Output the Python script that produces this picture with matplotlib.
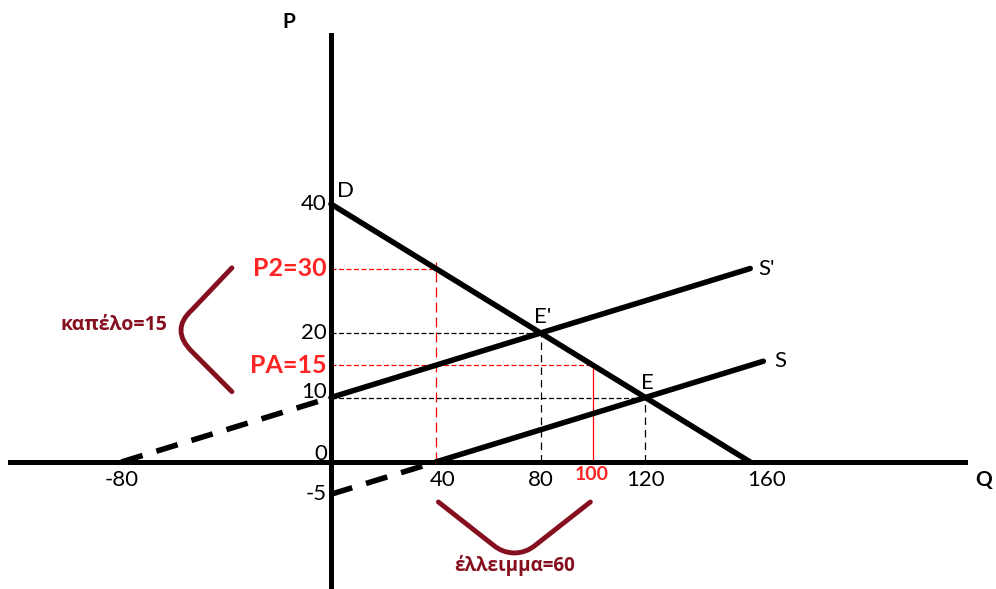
import numpy as np
import matplotlib.pyplot as plt
from matplotlib.path import Path
from matplotlib.patches import PathPatch

# market data (Q, P)
q_ticks = [-80, 40, 80, 120, 160]
p_ticks = [40, 20, 10, 0, -5]
demand_q = [0, 160]
demand_p = [40, 0]
supply_dash_q = [0, 40]
supply_dash_p = [-5, 0]
supply_q = [40, 165]
supply_p = [0, 15.625]
supply2_dash_q = [-80, 0]
supply2_dash_p = [0, 10]
supply2_q = [0, 160]
supply2_p = [10, 30]
eq_old = (120, 10)
eq_new = (80, 20)
p2, pa = 30, 15
q_p2, q_pa = 40, 100

red = '#ff2424'
dark = '#860f1f'
plt.rcParams['font.family'] = ['Lato', 'DejaVu Sans']
greek = ['Open Sans', 'DejaVu Sans']

fig = plt.figure(figsize=(9.96, 5.89), dpi=100)
ax = fig.add_axes([0, 0, 1, 1])
ax.set_xlim(-126.3, 253.8)
ax.set_ylim(-19.69, 71.63)
ax.axis('off')

# axes
ax.axhline(0, xmin=0.01, xmax=0.969, color='black', lw=3.6, zorder=3)
ax.axvline(0, ymin=0, ymax=0.94, color='black', lw=3.6, zorder=3)

# guide lines
ax.plot([0, eq_new[0]], [eq_new[1]] * 2, color='black', lw=0.9, ls=(0, (4, 2)), zorder=1)
ax.plot([eq_new[0]] * 2, [0, eq_new[1]], color='black', lw=0.9, ls=(0, (6, 4)), zorder=1)
ax.plot([0, eq_old[0]], [eq_old[1]] * 2, color='black', lw=0.9, ls=(0, (4, 2)), zorder=1)
ax.plot([eq_old[0]] * 2, [0, eq_old[1]], color='black', lw=0.9, ls=(0, (6, 4)), zorder=1)
ax.plot([0, q_p2], [p2, p2], color='red', lw=0.9, ls=(0, (4, 2)), zorder=1)
ax.plot([q_p2, q_p2], [0, p2 + 1], color='red', lw=0.9, ls=(0, (8, 4)), zorder=1)
ax.plot([0, q_pa], [pa, pa], color='red', lw=0.9, ls=(0, (4, 2)), zorder=1)
ax.plot([q_pa, q_pa], [0, pa], color='red', lw=0.9, zorder=1)

# curves
ax.plot(demand_q, demand_p, color='black', lw=4, solid_capstyle='round', zorder=4)
ax.plot(supply_q, supply_p, color='black', lw=4, solid_capstyle='round', zorder=4)
ax.plot(supply_dash_q, supply_dash_p, color='black', lw=4, ls=(0, (4, 2.6)), zorder=4)
ax.plot(supply2_q, supply2_p, color='black', lw=4, solid_capstyle='round', zorder=4)
ax.plot(supply2_dash_q, supply2_dash_p, color='black', lw=4, ls=(0, (4, 2.6)), zorder=4)

# tick labels
for p in p_ticks:
    dy = 0
    if p == 0:
        dy = 6
    elif p == 10:
        dy = 4
    ax.annotate(str(p), (0, p), xytext=(-3, dy), textcoords='offset points',
                ha='right', va='center', fontsize=16)
for q in q_ticks:
    dx = 0
    if q == 160:
        dx = 12
    elif q == 40:
        dx = 5
    ax.annotate(str(q), (q, 0), xytext=(dx, -6), textcoords='offset points',
                ha='center', va='top', fontsize=16)
ax.annotate(str(q_pa), (q_pa, 0), xytext=(-1, -3), textcoords='offset points',
            ha='center', va='top', fontsize=14, color=red, fontweight='bold')

ax.annotate(f'P2={p2}', (0, p2), xytext=(-3, 0), textcoords='offset points',
            ha='right', va='center', fontsize=18, color=red, fontweight='bold')
ax.annotate(f'PA={pa}', (0, pa), xytext=(-3, 0), textcoords='offset points',
            ha='right', va='center', fontsize=18, color=red, fontweight='bold')

# curve labels
ax.annotate('D', (demand_q[0], demand_p[0]), xytext=(4, 2), textcoords='offset points',
            ha='left', va='bottom', fontsize=16)
ax.annotate("E'", eq_new, xytext=(-5, 4), textcoords='offset points',
            ha='left', va='bottom', fontsize=16)
ax.annotate('E', eq_old, xytext=(-3, 3), textcoords='offset points',
            ha='left', va='bottom', fontsize=16)
ax.annotate("S'", (supply2_q[1], supply2_p[1]), xytext=(6, 0), textcoords='offset points',
            ha='left', va='center', fontsize=16)
ax.annotate('S', (supply_q[1], supply_p[1]), xytext=(8, 0), textcoords='offset points',
            ha='left', va='center', fontsize=16)
ax.text(-16, 68.2, 'P', ha='center', va='center', fontsize=15, fontweight='bold')
ax.text(246, -2.8, 'Q', ha='left', va='center', fontsize=15, fontweight='bold')

# brackets
left = Path([(-37.8, 30.1), (-53, 23.6), (-61.5, 20.5), (-53, 17.1), (-37.8, 10.9)],
            [Path.MOVETO, Path.LINETO, Path.CURVE3, Path.CURVE3, Path.LINETO])
ax.add_patch(PathPatch(left, fill=False, edgecolor=dark, lw=3.5, capstyle='round'))
bottom = Path([(q_p2 + 1, -6.2), (62, -12.9), (65.5, -14.1), (70, -14.1),
               (74.5, -14.1), (78, -12.9), (q_pa - 1, -6.2)],
              [Path.MOVETO, Path.LINETO, Path.CURVE3, Path.CURVE3,
               Path.CURVE3, Path.CURVE3, Path.LINETO])
ax.add_patch(PathPatch(bottom, fill=False, edgecolor=dark, lw=3.5, capstyle='round'))
ax.text(-83, 21.2, 'καπέλο=15', ha='center', va='center', fontsize=14,
        color=dark, fontweight='bold', family=greek)
ax.text(70, -16.0, 'έλλειμμα=60', ha='center', va='center', fontsize=13.5,
        color=dark, fontweight='bold', family=greek)

fig.savefig('out.png', dpi=100)
